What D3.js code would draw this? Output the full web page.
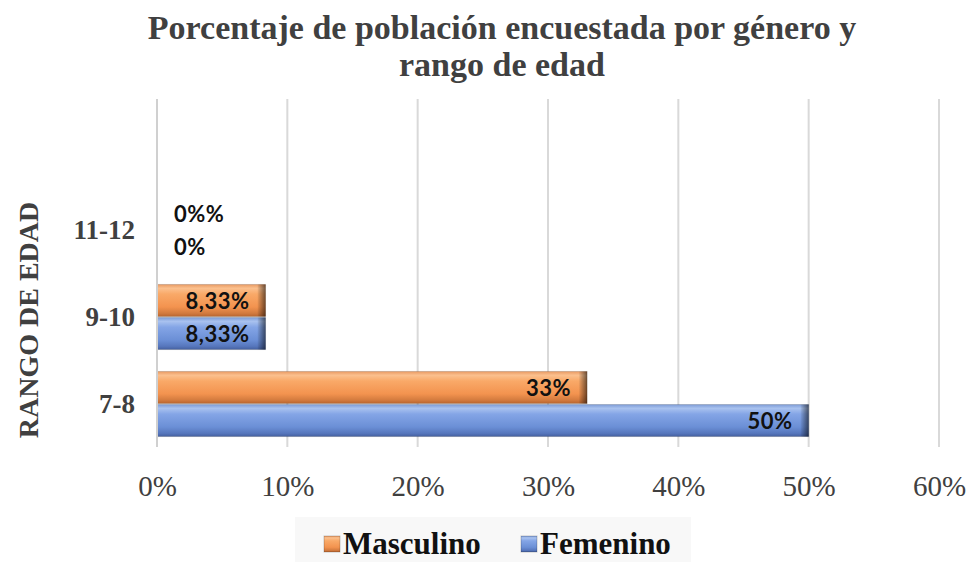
<!DOCTYPE html>
<html>
<head>
<meta charset="utf-8">
<script src="https://cdn.jsdelivr.net/npm/d3@7"></script>
<style>
  body { margin: 0; background: #fff; }
  svg { display: block; }
</style>
</head>
<body>
<script>
// data
var categories = ["7-8", "9-10", "11-12"];
var series = ["Masculino", "Femenino"];
var masculino = [33, 8.33, 0];
var femenino = [50, 8.33, 0];
var labelsM = ["33%", "8,33%", "0%%"];
var labelsF = ["50%", "8,33%", "0%"];
var xTicks = [0, 10, 20, 30, 40, 50, 60];

var W = 972, H = 562;
var plot = {left: 157, right: 939, top: 99, bottom: 447};
var serif = "'Liberation Serif', 'Times New Roman', serif";

var svg = d3.select("body").append("svg")
    .attr("width", W)
    .attr("height", H);

// gradients for the bevelled bars
var defs = svg.append("defs");
function vgrad(id, stops) {
  var g = defs.append("linearGradient").attr("id", id)
      .attr("x1", 0).attr("y1", 0).attr("x2", 0).attr("y2", 1);
  stops.forEach(function(s) {
    g.append("stop").attr("offset", s[0]).attr("stop-color", s[1]);
  });
}
vgrad("gOrange", [[0, "#e99a62"], [0.12, "#fbc08e"], [0.3, "#f9a968"], [0.7, "#f3934f"], [0.9, "#d27a3e"], [1, "#b8652f"]]);
vgrad("gBlue", [[0, "#7c9bd6"], [0.12, "#a9c2ef"], [0.3, "#84a5e6"], [0.7, "#6b8fd6"], [0.9, "#5676bc"], [1, "#445f9e"]]);
var endG = defs.append("linearGradient").attr("id", "gEnd")
    .attr("x1", 0).attr("y1", 0).attr("x2", 1).attr("y2", 0);
endG.append("stop").attr("offset", 0).attr("stop-color", "#000").attr("stop-opacity", 0.05);
endG.append("stop").attr("offset", 1).attr("stop-color", "#000").attr("stop-opacity", 0.55);

var x = d3.scaleLinear().domain([0, 60]).range([plot.left, plot.right]);
var y = d3.scaleBand().domain(categories).range([448, 187])
    .paddingInner(0.24).paddingOuter(0.12);
var y2 = d3.scaleBand().domain(series).range([0, y.bandwidth()]);

// gridlines
svg.append("g").selectAll("line")
    .data(xTicks)
    .enter().append("line")
    .attr("x1", function(d) { return x(d); })
    .attr("x2", function(d) { return x(d); })
    .attr("y1", plot.top)
    .attr("y2", plot.bottom)
    .attr("stroke", "#d9d9d9")
    .attr("stroke-width", 2);

// x axis labels
var xAxis = d3.axisBottom(x).tickValues(xTicks)
    .tickFormat(function(d) { return d + "%"; })
    .tickSize(0).tickPadding(0);
var gx = svg.append("g")
    .attr("transform", "translate(0," + 496 + ")")
    .call(xAxis);
gx.select(".domain").remove();
gx.selectAll("text")
    .attr("dy", 0)
    .style("font-family", serif)
    .style("font-size", "29px")
    .attr("fill", "#404040");

// y axis labels
var yAxis = d3.axisLeft(y).tickSize(0).tickPadding(22);
var gy = svg.append("g")
    .attr("transform", "translate(" + plot.left + ",0)")
    .call(yAxis);
gy.select(".domain").remove();
gy.selectAll("text")
    .style("font-family", serif)
    .style("font-size", "27px")
    .style("font-weight", "bold")
    .attr("fill", "#404040");

// bars
var rows = categories.map(function(c, i) {
  return [
    {cat: c, s: "Masculino", v: masculino[i], lab: labelsM[i], fill: "url(#gOrange)"},
    {cat: c, s: "Femenino", v: femenino[i], lab: labelsF[i], fill: "url(#gBlue)"}
  ];
});
var flat = [].concat.apply([], rows);

var bars = svg.append("g").selectAll("g")
    .data(flat.filter(function(d) { return d.v > 0; }))
    .enter().append("g")
    .attr("transform", function(d) { return "translate(0," + (y(d.cat) + y2(d.s)) + ")"; });
bars.append("rect")
    .attr("x", x(0))
    .attr("width", function(d) { return x(d.v) - x(0); })
    .attr("height", y2.bandwidth() - 1)
    .attr("fill", function(d) { return d.fill; });
// darker bevel at the right end
bars.append("rect")
    .attr("x", function(d) { return x(d.v) - 8; })
    .attr("width", 8)
    .attr("height", y2.bandwidth() - 1)
    .attr("fill", "url(#gEnd)");
bars.append("rect")
    .attr("x", x(0))
    .attr("width", function(d) { return x(d.v) - x(0); })
    .attr("height", y2.bandwidth() - 1)
    .attr("fill", "none")
    .attr("stroke", "#000")
    .attr("stroke-opacity", 0.15);

// data labels
svg.append("g").selectAll("text")
    .data(flat)
    .enter().append("text")
    .attr("x", function(d) { return d.v > 0 ? x(d.v) - 16 : x(0) + 17; })
    .attr("y", function(d) { return y(d.cat) + y2(d.s) + y2.bandwidth() / 2; })
    .attr("dy", "0.36em")
    .attr("text-anchor", function(d) { return d.v > 0 ? "end" : "start"; })
    .style("font-family", "Lato, 'Open Sans', sans-serif")
    .style("font-size", "22px")
    .style("font-weight", "bold")
    .style("letter-spacing", "0.5px")
    .attr("fill", "#111")
    .text(function(d) { return d.lab; });

// axis line on the left
svg.append("line")
    .attr("x1", plot.left).attr("x2", plot.left)
    .attr("y1", plot.top).attr("y2", plot.bottom)
    .attr("stroke", "#d0d0d0").attr("stroke-width", 2);

// title
var title = svg.append("text")
    .attr("text-anchor", "middle")
    .style("font-family", serif)
    .style("font-size", "34px")
    .style("font-weight", "bold")
    .attr("fill", "#404040");
title.append("tspan").attr("x", 502).attr("y", 39).text("Porcentaje de población encuestada por género y");
title.append("tspan").attr("x", 502).attr("y", 76).text("rango de edad");

// y axis title
svg.append("text")
    .attr("transform", "translate(38,320) rotate(-90)")
    .attr("text-anchor", "middle")
    .style("font-family", serif)
    .style("font-size", "28px")
    .style("font-weight", "bold")
    .attr("fill", "#404040")
    .text("RANGO DE EDAD");

// legend
var legend = svg.append("g");
legend.append("rect")
    .attr("x", 295).attr("y", 517)
    .attr("width", 396).attr("height", 45)
    .attr("fill", "#f8f8f8");
var legendX = [324, 521];
var legendFill = ["url(#gOrange)", "url(#gBlue)"];
var li = legend.selectAll("g.item")
    .data(series)
    .enter().append("g")
    .attr("class", "item")
    .attr("transform", function(d, i) { return "translate(" + legendX[i] + ",536)"; });
li.append("rect")
    .attr("width", 16).attr("height", 16)
    .attr("fill", function(d, i) { return legendFill[i]; })
    .attr("stroke", "#000").attr("stroke-opacity", 0.2);
li.append("text")
    .attr("x", 19).attr("y", 18)
    .style("font-family", serif)
    .style("font-size", "31px")
    .style("font-weight", "bold")
    .attr("fill", "#111")
    .text(function(d) { return d; });
</script>
</body>
</html>
